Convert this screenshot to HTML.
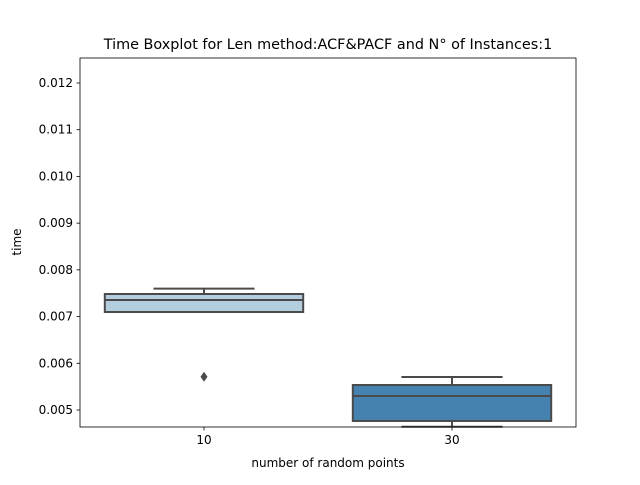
<!DOCTYPE html>
<html><head><meta charset="utf-8"><style>
body{margin:0;background:#fff;font-family:"Liberation Sans","DejaVu Sans",sans-serif;}
svg text{font-family:"DejaVu Sans","Liberation Sans",sans-serif;}
</style></head><body>
<svg id="chart" width="640" height="480" xmlns="http://www.w3.org/2000/svg">
<rect width="640" height="480" fill="#fff"/>
<text x="328" y="49" font-size="14.4" text-anchor="middle" fill="#000">Time Boxplot for Len method:ACF&amp;PACF and N° of Instances:1</text>
<g id="plot"></g>
<text x="328" y="467" font-size="12" text-anchor="middle">number of random points</text>
<text transform="translate(21,242) rotate(-90)" font-size="12" text-anchor="middle">time</text>
</svg>
<script>
const categories = ["10", "30"];
const whiskerLow = [0.007098, 0.004642];
const q1 = [0.007098, 0.004765];
const median = [0.007355, 0.0053];
const q3 = [0.007483, 0.005535];
const whiskerHigh = [0.007597, 0.005706];
const outliers = [[0.005713], []];
const yTicks = [0.005, 0.006, 0.007, 0.008, 0.009, 0.010, 0.011, 0.012];
const colors = ["#b3cfdf", "#4682b0"];

const L=80,R=576,T=58,B=427;
const yMin=0.005-(427-410)/46.714*0.001, yMax=0.012+(83-58)/46.714*0.001;
const y=v=>B-(v-yMin)/(yMax-yMin)*(B-T);
const band=(R-L)/categories.length;
const x=i=>L+band*(i+0.5);
const ns="http://www.w3.org/2000/svg";
const g=document.getElementById('plot');
function mk(tag,attrs,parent){const e=document.createElementNS(ns,tag);for(const k in attrs)e.setAttribute(k,attrs[k]);(parent||g).appendChild(e);return e;}
yTicks.forEach(v=>{
  const t=mk('line',{x1:L-3.5,x2:L,y1:y(v),y2:y(v),stroke:'#000','stroke-width':0.8});
  
  
  const tx=mk('text',{x:L-7,y:y(v)+4,'font-size':12,'text-anchor':'end'});
  tx.textContent=v.toFixed(3);
  
  
});
const lc='#4a4a4a';
categories.forEach((c,i)=>{
  const cx=x(i),hw=band*0.4,cw=hw*0.51;
  const grp=mk('g',{});
  
  
  mk('line',{x1:cx,x2:cx,y1:y(q3[i]),y2:y(whiskerHigh[i]),stroke:lc,'stroke-width':2},grp);
  mk('line',{x1:cx,x2:cx,y1:y(q1[i]),y2:y(whiskerLow[i]),stroke:lc,'stroke-width':2},grp);
  mk('line',{x1:cx-cw,x2:cx+cw,y1:y(whiskerHigh[i]),y2:y(whiskerHigh[i]),stroke:lc,'stroke-width':2},grp);
  mk('line',{x1:cx-cw,x2:cx+cw,y1:y(whiskerLow[i]),y2:y(whiskerLow[i]),stroke:lc,'stroke-width':2},grp);
  mk('rect',{x:cx-hw,y:y(q3[i]),width:2*hw,height:y(q1[i])-y(q3[i]),fill:colors[i],stroke:lc,'stroke-width':2},grp);
  mk('line',{x1:cx-hw,x2:cx+hw,y1:y(median[i]),y2:y(median[i]),stroke:lc,'stroke-width':2},grp);
  outliers[i].forEach(o=>{
    const oy=y(o);
    const d=mk('path',{d:`M${cx},${oy-5} L${cx+3.5},${oy} L${cx},${oy+5} L${cx-3.5},${oy} Z`,fill:lc});
    
    
  });
  const t=mk('line',{x1:cx,x2:cx,y1:B,y2:B+3.5,stroke:'#000','stroke-width':0.8});
  
  
  const tx=mk('text',{x:cx,y:B+17,'font-size':12,'text-anchor':'middle'});
  tx.textContent=c;
  
  
});
const fr=mk('rect',{x:L,y:T,width:R-L,height:B-T,fill:'none',stroke:'#000','stroke-width':0.8});


</script>
</body></html>
